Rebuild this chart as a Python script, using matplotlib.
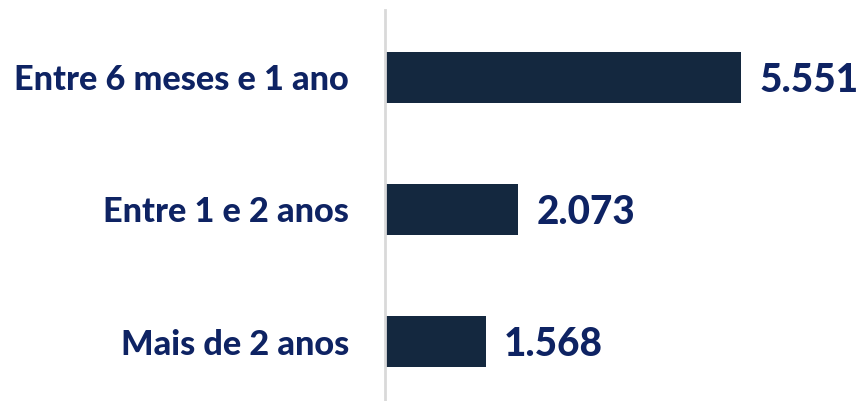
import matplotlib
matplotlib.use("Agg")
import matplotlib.pyplot as plt

categories = ["Entre 6 meses e 1 ano", "Entre 1 e 2 anos", "Mais de 2 anos"]
values = [5551, 2073, 1568]
value_labels = ["5.551", "2.073", "1.568"]

plt.rcParams['font.family'] = ['Lato', 'DejaVu Sans']

W, H = 858, 401
fig = plt.figure(figsize=(W/100, H/100), dpi=100)
ax = fig.add_axes([385/W, 1 - 400/H, (W-385)/W, 390/H])

bar_color = "#14283f"
text_color = "#0e2363"
pos = list(range(len(categories)))
ax.barh(pos, values, height=0.386, color=bar_color)
ax.set_xlim(0, 7379)
ax.set_ylim(2.443, -0.511)

for p, v, lab in zip(pos, values, value_labels):
    ax.text(v + 290, p + 0.02, lab, va='center', ha='left', fontsize=27.8,
            fontweight='black', color=text_color)

ax.set_yticks(pos)
ax.set_yticklabels(categories, fontsize=24.7, fontweight='black', color=text_color)
ax.tick_params(axis='y', length=0, pad=26)
ax.set_xticks([])
for s in ['top', 'right', 'bottom']:
    ax.spines[s].set_visible(False)
ax.spines['left'].set_color('#d9d9d9')
ax.spines['left'].set_linewidth(2)

fig.savefig("out.png", dpi=100)
